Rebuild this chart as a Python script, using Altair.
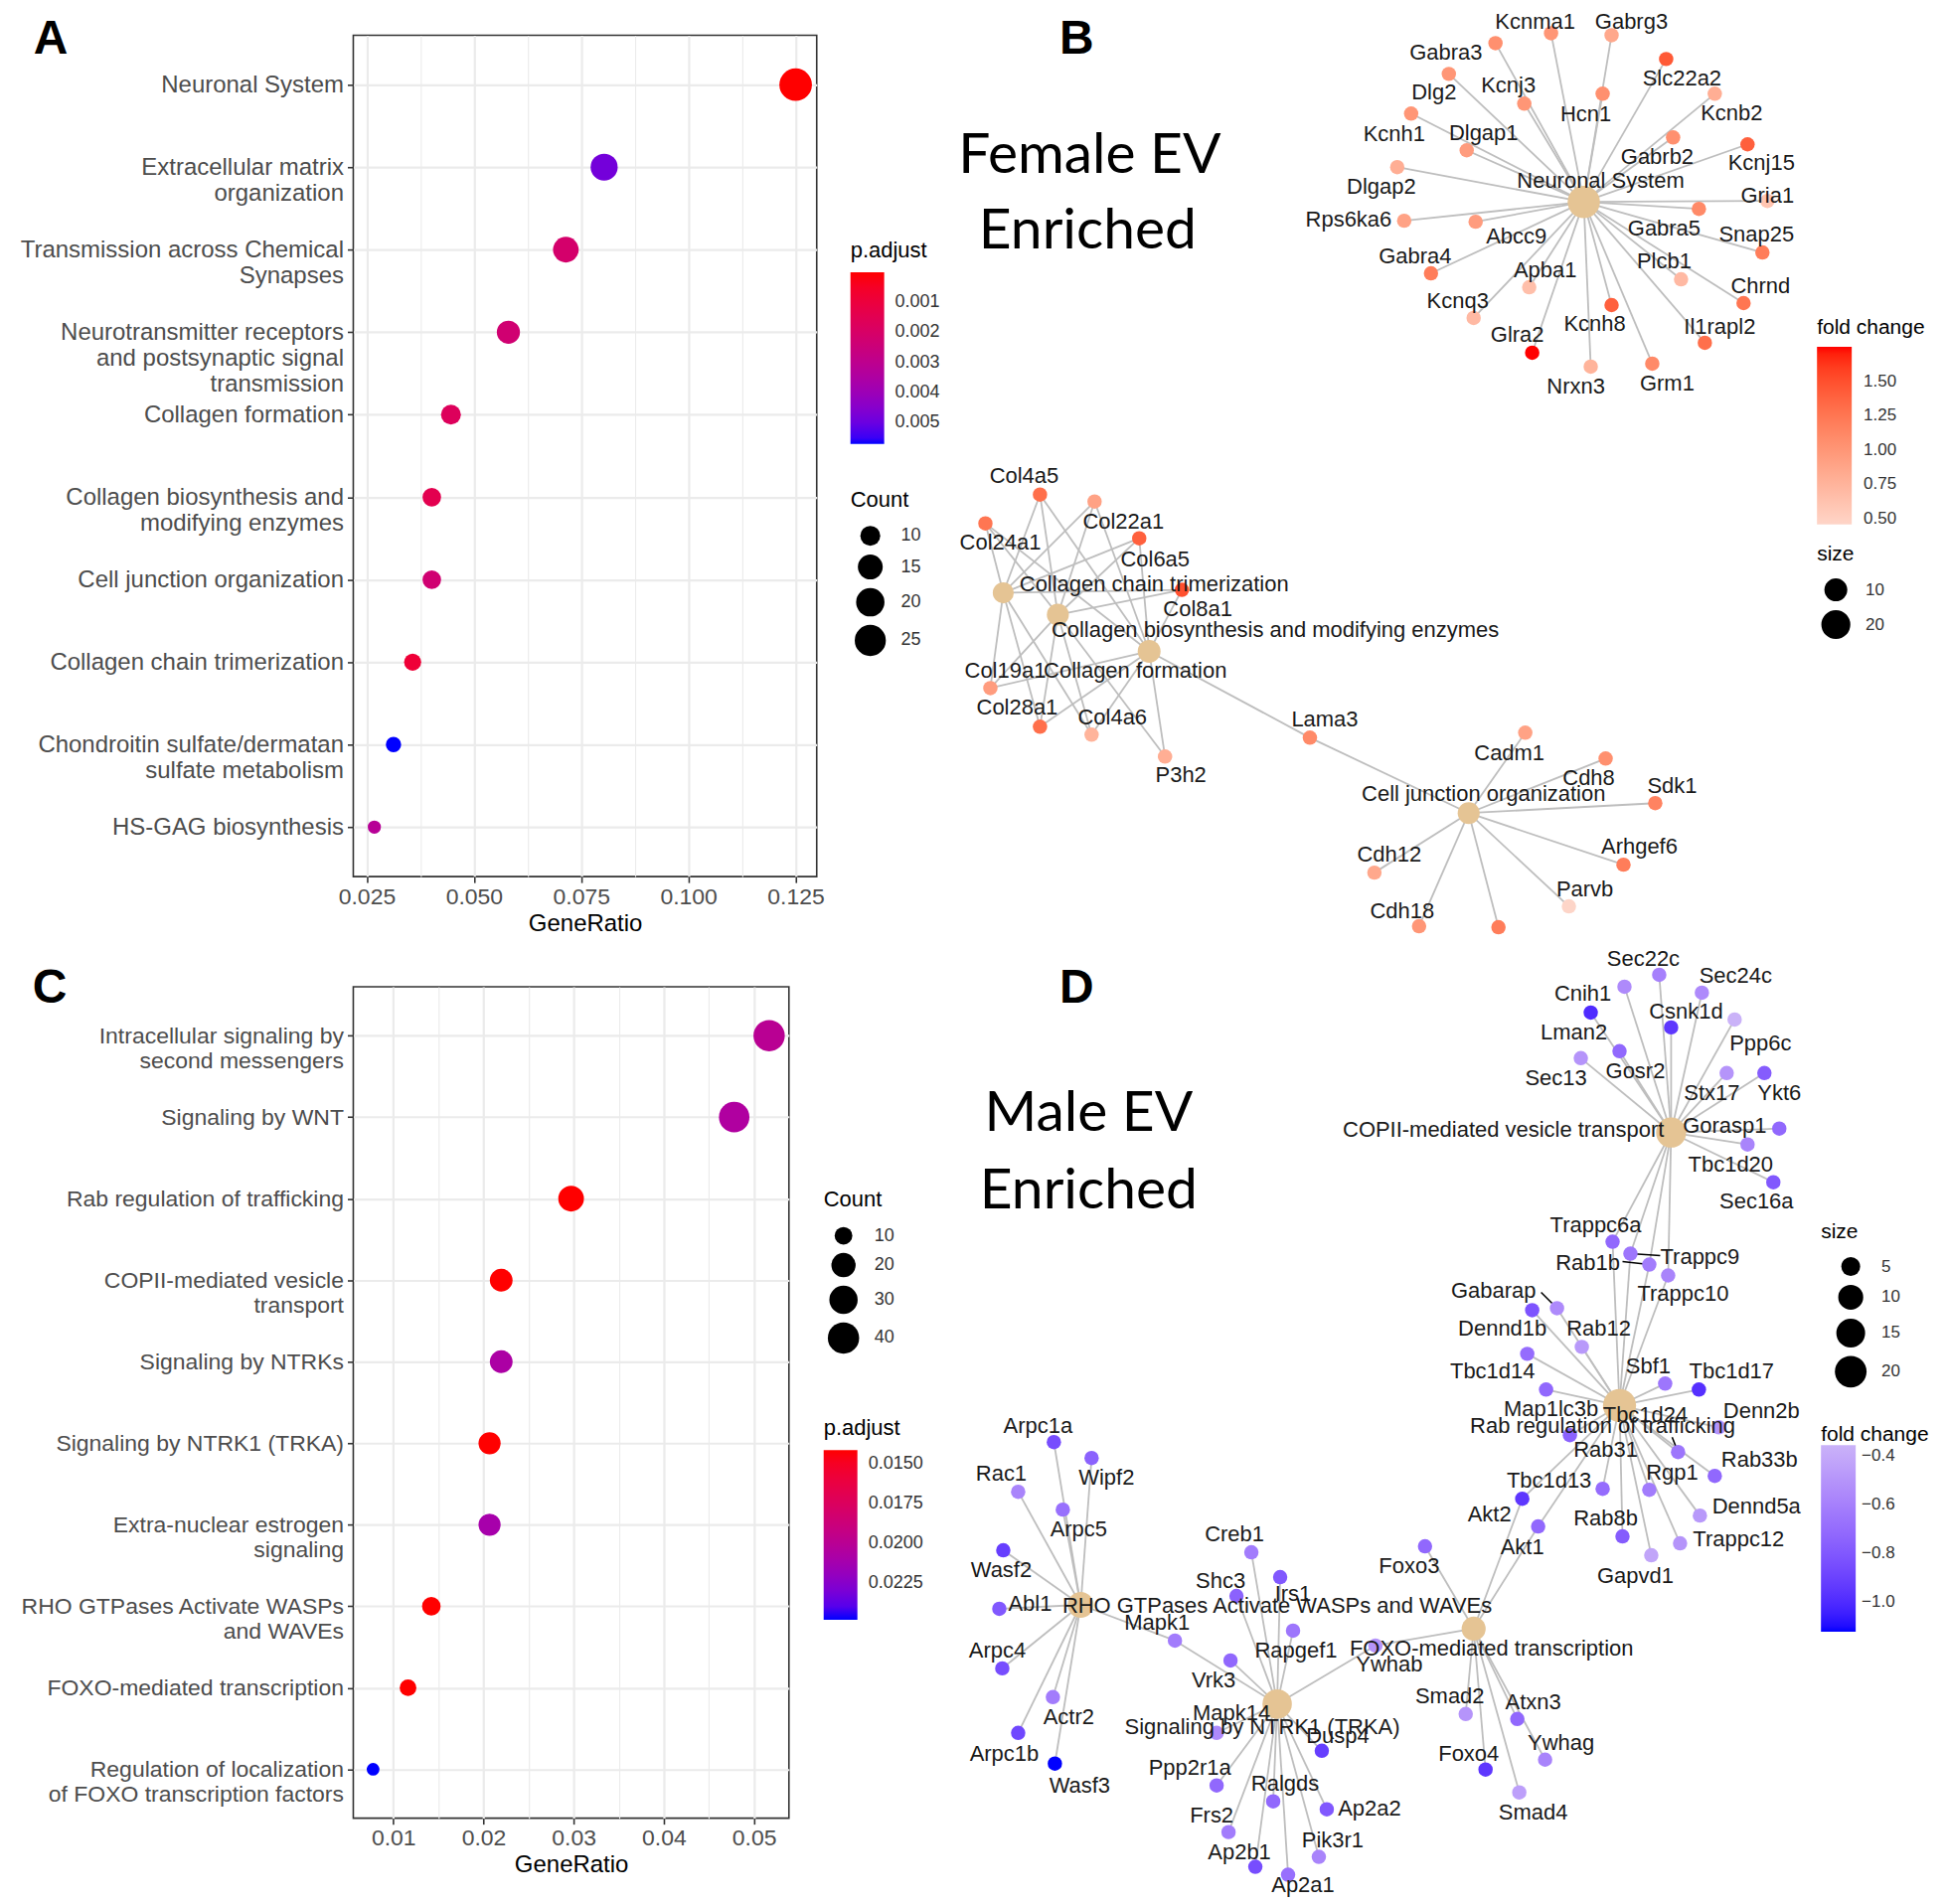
import altair as alt
import pandas as pd

FONT = "Liberation Sans"
TXT = "#4D4D4D"

# ================= Panel A (Female EV, dot plot) =================
A_TERMS = ["Neuronal System", "Extracellular matrix\norganization",
           "Transmission across Chemical\nSynapses",
           "Neurotransmitter receptors\nand postsynaptic signal\ntransmission",
           "Collagen formation", "Collagen biosynthesis and\nmodifying enzymes",
           "Cell junction organization", "Collagen chain trimerization",
           "Chondroitin sulfate/dermatan\nsulfate metabolism", "HS-GAG biosynthesis"]
A_COUNT = [28, 18, 16, 13, 10, 9, 9, 8, 7, 6]
A_TOTAL = 224
A_PADJ = [0.00002, 0.00485, 0.00212, 0.00229, 0.00172, 0.00144, 0.00229, 0.00087, 0.0057, 0.0032]
A_XMAJOR = [0.025, 0.05, 0.075, 0.1, 0.125]
A_XMINOR = [0.0375, 0.0625, 0.0875, 0.1125]
A_PTICKS = [0.001, 0.002, 0.003, 0.004, 0.005]
A_CTICKS = [10, 15, 20, 25]

# ================= Panel C (Male EV, dot plot) =================
C_TERMS = ["Intracellular signaling by\nsecond messengers", "Signaling by WNT",
           "Rab regulation of trafficking", "COPII-mediated vesicle\ntransport",
           "Signaling by NTRKs", "Signaling by NTRK1 (TRKA)",
           "Extra-nuclear estrogen\nsignaling", "RHO GTPases Activate WASPs\nand WAVEs",
           "FOXO-mediated transcription",
           "Regulation of localization\nof FOXO transcription factors"]
C_COUNT = [40, 37, 23, 17, 17, 16, 16, 11, 9, 6]
C_TOTAL = 774
C_PADJ = [0.0200, 0.0206, 0.01415, 0.01415, 0.0208, 0.01415, 0.0211, 0.01415, 0.01415, 0.02483]
C_XMAJOR = [0.01, 0.02, 0.03, 0.04, 0.05]
C_XMINOR = [0.015, 0.025, 0.035, 0.045]
C_PTICKS = [0.015, 0.0175, 0.02, 0.0225]
C_CTICKS = [10, 20, 30, 40]

# ================= Panel B (Female EV network) =================
B_GENE = ["Kcnma1", "Gabrg3", "Gabra3", "Slc22a2", "Dlg2", "Kcnj3", "Hcn1", "Kcnb2", "Kcnh1",
          "Dlgap1", "Gabrb2", "Kcnj15", "Dlgap2", "Gria1", "Gabra5", "Rps6ka6", "Abcc9",
          "Snap25", "Gabra4", "Apba1", "Plcb1", "Chrnd", "Kcnq3", "Kcnh8", "Glra2",
          "Il1rapl2", "Nrxn3", "Grm1",
          "Col4a5", "Col22a1", "Col24a1", "Col6a5", "Col8a1", "Col19a1", "Col28a1", "Col4a6",
          "P3h2", "Lama3",
          "Cadm1", "Cdh8", "Sdk1", "Arhgef6", "Cdh12", "Parvb", "Cdh18", ""]
B_GX = [1558, 1619, 1502, 1674, 1455, 1531, 1610, 1723, 1417, 1473, 1681, 1756, 1403, 1776,
        1707, 1410, 1482, 1771, 1437, 1536, 1689, 1752, 1480, 1619, 1539, 1713, 1598, 1660,
        1043, 1098, 988, 1143, 1186, 993, 1043, 1095, 1169, 1315,
        1532, 1613, 1663, 1631, 1380, 1576, 1425, 1505]
B_GY = [27, 29, 37, 53, 68, 98, 88, 88, 108, 145, 132, 139, 162, 196, 204, 216, 217, 248,
        269, 283, 275, 299, 314, 301, 349, 339, 363, 360,
        492, 499, 521, 536, 588, 687, 726, 734, 756, 737,
        732, 758, 803, 865, 873, 907, 927, 928]
B_LX = [1542, 1639, 1452, 1690, 1440, 1515, 1593, 1740, 1400, 1490, 1665, 1770, 1387, 1776,
        1672, 1354, 1523, 1765, 1421, 1552, 1672, 1769, 1464, 1602, 1524, 1728, 1583, 1675,
        1027, 1127, 1003, 1159, 1202, 1008, 1020, 1116, 1185, 1330,
        1516, 1596, 1680, 1647, 1395, 1592, 1408, 1505]
B_LY = [16, 16, 47, 73, 87, 80, 109, 108, 129, 128, 152, 158, 182, 191, 224, 215, 232, 230,
        252, 266, 257, 282, 297, 320, 331, 323, 383, 380,
        473, 519, 540, 557, 607, 670, 707, 717, 775, 719,
        753, 778, 786, 847, 855, 890, 912, 945]
B_FC = [1.00, 0.85, 1.05, 1.45, 1.00, 1.00, 1.05, 0.80, 1.00, 0.95, 1.05, 1.40, 0.80, 0.60,
        1.10, 0.90, 0.95, 1.20, 1.20, 0.65, 0.70, 1.25, 0.70, 1.40, 1.754, 1.30, 0.75, 1.10,
        1.30, 0.90, 1.25, 1.40, 1.50, 0.95, 1.30, 0.75, 0.80, 1.10,
        0.90, 1.05, 1.15, 1.20, 0.85, 0.457, 1.00, 1.20]
B_HUBS = ["NS"] * 28 + ["CT CB CF"] * 8 + ["CB CF", "CF CJ"] + ["CJ"] * 8

B_HUB_ID = ["NS", "CT", "CB", "CF", "CJ"]
B_HUB_NAME = ["Neuronal System", "Collagen chain trimerization",
              "Collagen biosynthesis and modifying enzymes", "Collagen formation",
              "Cell junction organization"]
B_HX = [1591, 1006, 1061, 1153, 1475]
B_HY = [197, 591, 613, 650, 813]
B_HLX = [1608, 1158, 1280, 1139, 1490]
B_HLY = [176, 582, 629, 670, 794]
B_HCOUNT = [28, 8, 9, 10, 9]

# ================= Panel D (Male EV network) =================
D_GENE = ["Sec22c", "Sec24c", "Gosr2", "Cnih1", "Csnk1d", "Ppp6c", "Lman2", "Sec13", "Stx17",
          "Ykt6", "Gorasp1", "Tbc1d20", "Sec16a",
          "Trappc6a", "Rab1b", "Trappc9", "Trappc10",
          "Gabarap", "Dennd1b", "Rab12", "Tbc1d14", "Map1lc3b", "Sbf1", "Tbc1d17", "Tbc1d24",
          "Denn2b", "Rab31", "Rab33b", "Rgp1", "Tbc1d13", "Rab8b", "Dennd5a", "Trappc12", "Gapvd1",
          "Akt2", "Akt1",
          "Foxo3", "Smad2", "Atxn3", "Ywhag", "Foxo4", "Smad4",
          "Ywhab",
          "Creb1", "Shc3", "Irs1", "Rapgef1", "Vrk3", "Mapk14", "Dusp4", "Ppp2r1a", "Ralgds",
          "Ap2a2", "Frs2", "Pik3r1", "Ap2b1", "Ap2a1",
          "Mapk1",
          "Arpc1a", "Wipf2", "Rac1", "Arpc5", "Wasf2", "Abl1", "Arpc4", "Actr2", "Arpc1b", "Wasf3"]
D_GX = [1667, 1710, 1632, 1598, 1679, 1743, 1627, 1588, 1735, 1773, 1788, 1756, 1782,
        1620, 1657, 1638, 1676,
        1564, 1539, 1589, 1534, 1553, 1673, 1707, 1727, 1686, 1577, 1723, 1657, 1610, 1630,
        1708, 1688, 1659,
        1529, 1545,
        1431, 1472, 1524, 1552, 1492, 1526,
        1381,
        1256, 1241, 1285, 1298, 1235, 1221, 1327, 1221, 1278, 1332, 1233, 1324, 1260, 1293,
        1179,
        1057, 1095, 1021, 1066, 1006, 1002, 1005, 1056, 1021, 1058]
D_GY = [976, 994, 988, 1014, 1029, 1021, 1053, 1060, 1075, 1075, 1131, 1147, 1185,
        1245, 1268, 1257, 1279,
        1312, 1314, 1351, 1358, 1394, 1388, 1394, 1432, 1457, 1440, 1481, 1495, 1494, 1542,
        1521, 1549, 1561,
        1504, 1532,
        1552, 1721, 1726, 1767, 1777, 1800,
        1652,
        1558, 1602, 1583, 1637, 1667, 1740, 1758, 1793, 1809, 1817, 1840, 1865, 1875, 1883,
        1647,
        1447, 1463, 1497, 1515, 1556, 1615, 1675, 1704, 1740, 1771]
D_LX = [1651, 1744, 1643, 1590, 1694, 1769, 1581, 1563, 1720, 1788, 1733, 1739, 1765,
        1603, 1595, 1708, 1691,
        1500, 1509, 1606, 1499, 1558, 1656, 1740, 1653, 1770, 1613, 1768, 1680, 1556, 1613,
        1765, 1747, 1643,
        1496, 1529,
        1415, 1456, 1540, 1568, 1475, 1540,
        1395,
        1239, 1225, 1298, 1301, 1218, 1236, 1343, 1194, 1290, 1375, 1216, 1338, 1244, 1308,
        1161,
        1041, 1110, 1004, 1082, 1004, 1033, 1000, 1072, 1007, 1083]
D_LY = [960, 977, 1073, 995, 1013, 1045, 1034, 1080, 1095, 1095, 1128, 1167, 1204,
        1228, 1266, 1260, 1298,
        1295, 1333, 1333, 1376, 1414, 1371, 1376, 1420, 1416, 1455, 1465, 1478, 1486, 1524,
        1512, 1545, 1582,
        1520, 1553,
        1572, 1703, 1709, 1750, 1761, 1820,
        1671,
        1540, 1587, 1600, 1657, 1687, 1720, 1743, 1775, 1791, 1816, 1823, 1848, 1860, 1893,
        1629,
        1431, 1483, 1479, 1535, 1576, 1610, 1657, 1724, 1761, 1793]
D_FC = [-0.60, -0.55, -0.55, -1.00, -0.95, -0.355, -0.72, -0.50, -0.50, -0.78, -0.72, -0.58, -0.80,
        -0.72, -0.62, -0.65, -0.58,
        -0.55, -0.82, -0.48, -0.70, -0.72, -0.65, -0.98, -0.50, -0.65, -0.75, -0.72, -0.62,
        -0.70, -0.78, -0.48, -0.50, -0.42,
        -0.95, -0.72,
        -0.72, -0.50, -0.72, -0.58, -0.95, -0.45,
        -0.50,
        -0.62, -0.75, -0.80, -0.65, -0.72, -0.55, -0.92, -0.72, -0.72, -0.80, -0.62, -0.58,
        -0.85, -0.68,
        -0.62,
        -0.85, -0.75, -0.58, -0.68, -0.92, -0.80, -0.85, -0.62, -0.88, -1.122]
D_HUBS = (["CO"] * 13 + ["CO RB"] * 4 + ["RB"] * 17 + ["RB FX"] * 2 + ["FX"] * 6 +
          ["FX NT"] + ["NT"] * 14 + ["NT RH"] + ["RH"] * 10)
# label-repel leader segments (gene, start point near its label)
D_LEAD_GENE = ["Rab1b", "Trappc9", "Gabarap", "Denn2b"]
D_LEAD_X = [1630, 1668, 1548, 1680]
D_LEAD_Y = [1265, 1259, 1296, 1442]

D_HUB_ID = ["CO", "RB", "FX", "NT", "RH"]
D_HUB_NAME = ["COPII-mediated vesicle transport", "Rab regulation of trafficking",
              "FOXO-mediated transcription", "Signaling by NTRK1 (TRKA)",
              "RHO GTPases Activate WASPs and WAVEs"]
D_HX = [1679, 1627, 1480, 1282, 1084]
D_HY = [1135, 1410, 1635, 1711, 1611]
D_HLX = [1510, 1610, 1498, 1267, 1282]
D_HLY = [1132, 1431, 1655, 1734, 1612]
D_HCOUNT = [17, 23, 9, 16, 11]

# annotations (panel letters and big captions), in the same layout coordinates
B_LETTERS = ["A", "B"]
B_LETTER_X = [46, 1080]
B_LETTER_Y = [34, 34]
B_BIG = ["Female EV", "Enriched"]
B_BIG_X = [1093, 1091]
B_BIG_Y = [151, 227]
D_LETTERS = ["C", "D"]
D_LETTER_X = [45, 1080]
D_LETTER_Y = [990, 990]
D_BIG = ["Male EV", "Enriched"]
D_BIG_X = [1092, 1092]
D_BIG_Y = [1116, 1194]


def leg_common(**kw):
    base = dict(orient="none", direction="vertical", padding=0,
                titleFont=FONT, titleFontSize=22, titleFontWeight="normal", titleColor="black",
                labelFont=FONT, labelFontSize=18, labelColor="#333333", labelOverlap=False,
                labelLimit=300)
    base.update(kw)
    return alt.Legend(**base)


def dot_panel(terms, counts, total, padj, xmajor, xminor, step, xfmt, pticks, pfmt, cticks,
              width, height, ylab, size_range, leg_x, p_y, c_y, grad_len, c_pad):
    df = pd.DataFrame({"term": terms, "Count": counts, "padj": padj})
    df["GeneRatio"] = df["Count"] / total
    df["negp"] = -df["padj"]
    lo, hi = df["GeneRatio"].min(), df["GeneRatio"].max()
    ex = 0.05 * (hi - lo)
    major = f"abs(datum.value / {step} - round(datum.value / {step})) < 0.01"
    xaxis = alt.Axis(
        values=sorted(xmajor + xminor), title="GeneRatio",
        labelExpr=f"({major}) ? format(datum.value, '{xfmt}') : ''",
        grid=True, gridColor="#EBEBEB",
        gridWidth={"condition": {"test": major, "value": 2.2}, "value": 1.1},
        tickOpacity={"condition": {"test": major, "value": 1}, "value": 0},
        tickColor="#333333", tickSize=6, tickWidth=1.6, domain=False,
        labelFont=FONT, labelFontSize=23, labelColor=TXT, labelPadding=3,
        labelFlush=False, labelOverlap=False,
        titleFont=FONT, titleFontSize=24, titleFontWeight="normal", titleColor="black",
        titlePadding=3)
    yaxis = alt.Axis(
        title=None, grid=True, gridColor="#EBEBEB", gridWidth=2.2,
        tickColor="#333333", tickSize=6, tickWidth=1.6, domain=False,
        labelFont=FONT, labelFontSize=ylab, labelColor=TXT, labelPadding=4, labelLimit=600,
        labelExpr="split(datum.label, '\\n')", labelLineHeight=round(ylab * 1.1))
    pleg = leg_common(title="p.adjust", legendX=leg_x, legendY=p_y,
                      values=[-v for v in pticks], labelExpr=f"format(-datum.value, '{pfmt}')",
                      gradientLength=grad_len, gradientThickness=34, gradientStrokeWidth=0,
                      titlePadding=10, labelOffset=11)
    cleg = leg_common(title="Count", legendX=leg_x, legendY=c_y, values=cticks,
                      symbolFillColor="black", symbolStrokeWidth=0, symbolOpacity=1,
                      symbolType="circle", rowPadding=8, labelOffset=15, symbolOffset=4,
                      titlePadding=c_pad)
    pts = alt.Chart(df).mark_circle(opacity=1).encode(
        x=alt.X("GeneRatio:Q", scale=alt.Scale(domain=[lo - ex, hi + ex], nice=False, zero=False),
                axis=xaxis),
        y=alt.Y("term:N", sort=terms, scale=alt.Scale(type="point", padding=0.6), axis=yaxis),
        color=alt.Color("negp:Q", scale=alt.Scale(domain=[-max(padj), -min(padj)],
                                                  range=["#0000FF", "#FF0000"], interpolate="lab"),
                        legend=pleg),
        size=alt.Size("Count:Q", scale=alt.Scale(type="sqrt", domain=[min(counts), max(counts)],
                                                 range=size_range, zero=False), legend=cleg),
    )
    return pts.properties(width=width, height=height,
                          view=alt.ViewBackground(stroke="#333333", strokeWidth=1.6))


def net_panel(genes, gx, gy, lx, ly, fc, hubsets, hid, hname, hx, hy, hlx, hly, hcount,
              letters, letx, lety, big, bigx, bigy,
              xdom, ydom, width, height, fc_range, fc_ticks, fc_fmt, fc_xy, fc_len, fc_pad,
              fc_loff, size_dom, size_range, size_ticks, size_xy, size_pad, size_off,
              lead=None, pin=False):
    gdf = pd.DataFrame({"name": genes, "gx": gx, "gy": gy, "lx": lx, "ly": ly, "fc": fc})
    hdf = pd.DataFrame({"name": hname, "hx": hx, "hy": hy, "hlx": hlx, "hly": hly,
                        "count": hcount, "kind": "category"})
    pos = {h: (x, y) for h, x, y in zip(hid, hx, hy)}
    rows = []
    for x, y, hs in zip(gx, gy, hubsets):
        for h in hs.split():
            rows.append({"x": x, "y": y, "x2": pos[h][0], "y2": pos[h][1]})
    edf = pd.DataFrame(rows)
    ldf = pd.DataFrame({"t": letters, "x": letx, "y": lety})
    bdf = pd.DataFrame({"t": big, "x": bigx, "y": bigy})

    xs = alt.Scale(domain=xdom, nice=False, zero=False)
    ys = alt.Scale(domain=ydom, nice=False, zero=False, reverse=True)

    def XY(a, b):
        return dict(x=alt.X(f"{a}:Q", scale=xs, axis=None), y=alt.Y(f"{b}:Q", scale=ys, axis=None))

    edges = alt.Chart(edf).mark_rule(color="#BEBEBE", strokeWidth=1.8).encode(
        **XY("x", "y"), x2="x2:Q", y2="y2:Q")
    layers = [edges]
    if lead is not None:
        gpos = {g: (x, y) for g, x, y in zip(genes, gx, gy)}
        lrows = [{"x": sx, "y": sy, "x2": gpos[g][0], "y2": gpos[g][1]}
                 for g, sx, sy in zip(*lead)]
        layers.append(alt.Chart(pd.DataFrame(lrows)).mark_rule(color="black", strokeWidth=1.6)
                      .encode(**XY("x", "y"), x2="x2:Q", y2="y2:Q"))
    fleg = leg_common(title="fold change", legendX=fc_xy[0], legendY=fc_xy[1], values=fc_ticks,
                      format=fc_fmt, gradientLength=fc_len, gradientThickness=35,
                      gradientStrokeWidth=0, titlePadding=fc_pad, labelOffset=fc_loff,
                      titleFontSize=21, labelFontSize=17)
    nodes = alt.Chart(gdf).mark_circle(opacity=1, size=210).encode(
        **XY("gx", "gy"),
        color=alt.Color("fc:Q", scale=alt.Scale(domain=[min(fc), max(fc)], range=fc_range,
                                                interpolate="lab"), legend=fleg))
    sleg = leg_common(title="size", legendX=size_xy[0], legendY=size_xy[1], values=size_ticks,
                      symbolFillColor="black", symbolStrokeWidth=0, symbolOpacity=1,
                      symbolType="circle", rowPadding=8, labelOffset=15, symbolOffset=size_off,
                      titlePadding=size_pad, titleFontSize=21, labelFontSize=17)
    hubs = alt.Chart(hdf).mark_circle(opacity=1).encode(
        **XY("hx", "hy"),
        fill=alt.Fill("kind:N", scale=alt.Scale(range=["#E5C494"]), legend=None),
        size=alt.Size("count:Q", scale=alt.Scale(type="sqrt", domain=size_dom, range=size_range,
                                                 zero=False), legend=sleg))
    glab = alt.Chart(gdf).mark_text(font=FONT, fontSize=22, color="#1A1A1A").encode(
        **XY("lx", "ly"), text="name:N")
    hlab = alt.Chart(hdf).mark_text(font=FONT, fontSize=22, color="#1A1A1A").encode(
        **XY("hlx", "hly"), text="name:N")
    bigt = alt.Chart(bdf).mark_text(font="Lato", fontSize=57, color="black").encode(
        **XY("x", "y"), text="t:N")
    lett = alt.Chart(ldf).mark_text(font=FONT, fontSize=48, fontWeight="bold",
                                    color="black").encode(**XY("x", "y"), text="t:N")
    layers += [nodes, hubs, glab, hlab, bigt, lett]
    if pin:
        # invisible anchor fixing the top-left corner of the page layout
        pdf = pd.DataFrame({"x": [4], "y": [4]})
        layers.append(alt.Chart(pdf).mark_point(opacity=0, size=1).encode(**XY("x", "y")))
    return alt.layer(*layers).properties(width=width, height=height,
                                         view=alt.ViewBackground(strokeOpacity=0))


A = dot_panel(A_TERMS, A_COUNT, A_TOTAL, A_PADJ, A_XMAJOR, A_XMINOR, 0.025, ".3f",
              A_PTICKS, ".3f", A_CTICKS, 467, 848, 24, [177, 1075],
              leg_x=501, p_y=207, c_y=458, grad_len=173, c_pad=14)
C = dot_panel(C_TERMS, C_COUNT, C_TOTAL, C_PADJ, C_XMAJOR, C_XMINOR, 0.01, ".2f",
              C_PTICKS, ".4f", C_CTICKS, 439, 838, 23, [165, 995],
              leg_x=474, p_y=435, c_y=204, grad_len=171, c_pad=16)

B = net_panel(B_GENE, B_GX, B_GY, B_LX, B_LY, B_FC, B_HUBS, B_HUB_ID, B_HUB_NAME, B_HX, B_HY,
              B_HLX, B_HLY, B_HCOUNT, B_LETTERS, B_LETTER_X, B_LETTER_Y, B_BIG, B_BIG_X, B_BIG_Y,
              xdom=[960, 1950], ydom=[29, 877], width=990, height=848,
              fc_range=["#FDD5C8", "#FF0000"], fc_ticks=[0.5, 0.75, 1.0, 1.25, 1.5], fc_fmt=".2f",
              fc_xy=(866, 284), fc_len=179, fc_pad=9, fc_loff=12,
              size_dom=[8, 28], size_range=[449, 1058], size_ticks=[10, 20],
              size_xy=(866, 512), size_pad=14, size_off=4, pin=True)
D = net_panel(D_GENE, D_GX, D_GY, D_LX, D_LY, D_FC, D_HUBS, D_HUB_ID, D_HUB_NAME, D_HX, D_HY,
              D_HLX, D_HLY, D_HCOUNT, D_LETTERS, D_LETTER_X, D_LETTER_Y, D_BIG, D_BIG_X, D_BIG_Y,
              xdom=[960, 1950], ydom=[988, 1826], width=990, height=838,
              fc_range=["#0000FF", "#CAB2F8"], fc_ticks=[-1.0, -0.8, -0.6, -0.4], fc_fmt=".1f",
              fc_xy=(870, 441), fc_len=188, fc_pad=0, fc_loff=6,
              size_dom=[5, 23], size_range=[363, 1113], size_ticks=[5, 10, 15, 20],
              size_xy=(870, 236), size_pad=15, size_off=14,
              lead=(D_LEAD_GENE, D_LEAD_X, D_LEAD_Y))

chart = alt.concat(A, B, C, D, columns=2, spacing={"row": 111, "column": 142},
                   bounds="flush").resolve_scale(
    x="independent", y="independent", color="independent", size="independent",
    fill="independent").resolve_legend(color="independent", size="independent").properties(
    padding=0)

chart.save("out.html", embed_options={"renderer": "svg", "actions": False})
